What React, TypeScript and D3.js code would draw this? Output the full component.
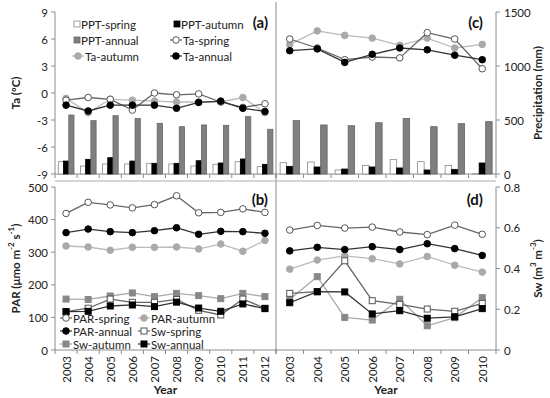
import React from 'react';
import * as d3 from 'd3';

const yearsLeft = ['2003', '2004', '2005', '2006', '2007', '2008', '2009', '2010', '2011', '2012'];
const yearsRight = ['2003', '2004', '2005', '2006', '2007', '2008', '2009', '2010'];

// panel (a)
const pptSpringA = [114, 74, 93, 93, 99, 93, 74, 90, 114, 68];
const pptAutumnA = [120, 136, 151, 120, 99, 99, 123, 102, 139, 90];
const pptAnnualA = [546, 494, 540, 515, 469, 438, 454, 451, 531, 414];
const taSpringA = [-0.8, -0.5, -0.7, -1.9, 0.0, -0.2, -0.1, -1.0, -1.6, -1.2];
const taAutumnA = [-0.6, -2.2, -0.7, -0.8, -0.9, -1.0, -1.0, -1.0, -0.5, -2.2];
const taAnnualA = [-1.35, -2.0, -1.35, -1.35, -1.35, -1.7, -1.05, -0.9, -1.7, -2.05];

// panel (c)
const pptSpringC = [105, 111, 37, 80, 133, 114, 80, 3];
const pptAutumnC = [71, 65, 46, 65, 56, 37, 43, 102];
const pptAnnualC = [494, 454, 447, 475, 515, 438, 466, 485];
const taSpringC = [6.0, 5.0, 3.7, 4.0, 3.9, 6.7, 6.0, 2.7];
const taAutumnC = [5.4, 6.9, 6.4, 6.1, 5.3, 6.1, 5.0, 5.4];
const taAnnualC = [4.7, 4.9, 3.4, 4.3, 5.0, 4.8, 4.2, 3.7];

// panel (b)
const parSpringB = [419, 453, 445, 436, 446, 473, 421, 422, 433, 422];
const parAutumnB = [319, 316, 306, 315, 315, 316, 310, 325, 303, 336];
const parAnnualB = [360, 371, 363, 360, 366, 375, 355, 364, 363, 358];
const swSpringB = [0.188, 0.205, 0.25, 0.234, 0.234, 0.248, 0.195, 0.172, 0.25, 0.205];
const swAutumnB = [0.25, 0.248, 0.265, 0.28, 0.262, 0.278, 0.267, 0.252, 0.278, 0.262];
const swAnnualB = [0.188, 0.19, 0.216, 0.221, 0.213, 0.235, 0.206, 0.19, 0.226, 0.203];

// panel (d)
const parSpringD = [368, 382, 374, 377, 362, 354, 383, 355];
const parAutumnD = [248, 276, 289, 280, 264, 287, 260, 239];
const parAnnualD = [304, 315, 308, 317, 308, 326, 311, 290];
const swSpringD = [0.278, 0.286, 0.438, 0.242, 0.224, 0.201, 0.19, 0.229];
const swAutumnD = [0.249, 0.36, 0.16, 0.147, 0.249, 0.119, 0.159, 0.257];
const swAnnualD = [0.232, 0.286, 0.285, 0.177, 0.193, 0.156, 0.163, 0.203];

const taTicks = [9, 6, 3, 0, -3, -6, -9];
const pptTicks = [1500, 1000, 500, 0];
const parTicks = [500, 400, 300, 200, 100, 0];
const swTicks = [0.8, 0.6, 0.4, 0.2, 0];

const FONT = 'Lato, "Open Sans", sans-serif';
const AX = '#8c8c8c';
const TICKFS = 11.5;
const LEGFS = 11.5;

const L = 55, M = 276, R = 496;
const T1 = 12, B1 = 174, T2 = 187, B2 = 350;

const xA = d3.scaleBand().domain(yearsLeft).range([L, M]);
const xC = d3.scaleBand().domain(yearsRight).range([M, R]);
const yTa = d3.scaleLinear().domain([-9, 9]).range([B1, T1]);
const yPPT = d3.scaleLinear().domain([0, 1500]).range([B1, T1]);
const yPAR = d3.scaleLinear().domain([0, 500]).range([B2, T2]);
const ySw = d3.scaleLinear().domain([0, 0.8]).range([B2, T2]);

type Style = { kind: 'circle' | 'square'; fill: string; stroke: string; line: string };
const sSpring: Style = { kind: 'circle', fill: '#fff', stroke: '#555', line: '#666' };
const sAutumn: Style = { kind: 'circle', fill: '#aaa', stroke: '#aaa', line: '#bbb' };
const sAnnual: Style = { kind: 'circle', fill: '#000', stroke: '#000', line: '#333' };
const qSpring: Style = { kind: 'square', fill: '#fff', stroke: '#555', line: '#666' };
const qAutumn: Style = { kind: 'square', fill: '#888', stroke: '#888', line: '#aaa' };
const qAnnual: Style = { kind: 'square', fill: '#000', stroke: '#000', line: '#333' };

function Marker({ x, y, s }: { x: number; y: number; s: Style }) {
  if (s.kind === 'circle') return <circle cx={x} cy={y} r={3.3} fill={s.fill} stroke={s.stroke} strokeWidth={1} />;
  return <rect x={x - 3} y={y - 3} width={6} height={6} fill={s.fill} stroke={s.stroke} strokeWidth={1} />;
}

function Series({ cats, vals, x, y, s }: { cats: string[]; vals: number[]; x: d3.ScaleBand<string>; y: d3.ScaleLinear<number, number>; s: Style }) {
  const pts: [number, number][] = cats.map((c, i) => [x(c)! + x.bandwidth() / 2, y(vals[i])]);
  const line = d3.line();
  return (
    <g>
      <path d={line(pts)!} fill="none" stroke={s.line} strokeWidth={1.3} />
      {pts.map((p, i) => <Marker key={i} x={p[0]} y={p[1]} s={s} />)}
    </g>
  );
}

function Bars({ cats, spring, autumn, annual, x }: { cats: string[]; spring: number[]; autumn: number[]; annual: number[]; x: d3.ScaleBand<string> }) {
  const bw = x.bandwidth();
  const sub = d3.scaleBand().domain(['s', 'a', 'n']).range([bw * 0.15, bw * 0.86]);
  const out: React.ReactNode[] = [];
  cats.forEach((c, i) => {
    const x0 = x(c)!;
    const defs: [string, number, string, string][] = [
      ['s', spring[i], '#fff', '#888'],
      ['a', autumn[i], '#000', '#000'],
      ['n', annual[i], '#7f7f7f', '#666'],
    ];
    defs.forEach(([k, v, f, st]) => {
      out.push(
        <rect key={c + k} x={x0 + sub(k)!} y={yPPT(v)} width={sub.bandwidth()} height={B1 - yPPT(v)} fill={f} stroke={st} strokeWidth={0.8} />
      );
    });
  });
  return <g>{out}</g>;
}

function XTicks({ x, y, cats }: { x: d3.ScaleBand<string>; y: number; cats: string[] }) {
  const xs = cats.map((c) => x(c)!).concat([x.range()[1]]);
  return <g>{xs.map((v, i) => <line key={i} x1={v} x2={v} y1={y} y2={y + 4} stroke={AX} />)}</g>;
}

function LegendItem({ x, y, label, s, swatch }: { x: number; y: number; label: string; s?: Style; swatch?: [string, string] }) {
  if (swatch) {
    return (
      <g>
        <rect x={x} y={y - 3} width={6} height={6} fill={swatch[0]} stroke={swatch[1]} strokeWidth={0.8} />
        <text x={x + 7} y={y} dominantBaseline="central" fontSize={LEGFS} fontFamily={FONT} fill="#222">{label}</text>
      </g>
    );
  }
  return (
    <g>
      <line x1={x - 2} x2={x + 10} y1={y} y2={y} stroke={s!.line} strokeWidth={1.2} />
      <Marker x={x + 4} y={y} s={s!} />
      <text x={x + 11} y={y} dominantBaseline="central" fontSize={LEGFS} fontFamily={FONT} fill="#222">{label}</text>
    </g>
  );
}

export default function App() {
  return (
    <svg width={550} height={398} style={{ position: 'absolute', left: 0, top: 0 }} fontFamily={FONT}>
      <rect width={550} height={398} fill="#fff" />
      {/* separators */}
      <line x1={M} x2={M} y1={2} y2={B2 + 2} stroke="#b0b0b0" strokeWidth={1.5} />
      <line x1={L} x2={R} y1={181} y2={181} stroke="#b0b0b0" strokeWidth={1.2} />

      {/* top axes */}
      <line x1={L} x2={L} y1={T1} y2={B1} stroke={AX} />
      <line x1={R} x2={R} y1={T1} y2={B1} stroke={AX} />
      <line x1={L} x2={R} y1={B1} y2={B1} stroke={AX} />
      <XTicks x={xA} y={B1} cats={yearsLeft} />
      <XTicks x={xC} y={B1} cats={yearsRight} />
      {taTicks.map((t) => (
        <g key={t}>
          <line x1={L - 4} x2={L} y1={yTa(t)} y2={yTa(t)} stroke={AX} />
          <text x={L - 7} y={yTa(t)} textAnchor="end" dominantBaseline="central" fontSize={TICKFS} fill="#222">{t}</text>
        </g>
      ))}
      {pptTicks.map((t) => (
        <g key={t}>
          <line x1={R} x2={R + 4} y1={yPPT(t)} y2={yPPT(t)} stroke={AX} />
          <text x={R + 8} y={yPPT(t)} dominantBaseline="central" fontSize={TICKFS} fill="#222">{t}</text>
        </g>
      ))}

      {/* bottom axes */}
      <line x1={L} x2={L} y1={T2} y2={B2} stroke={AX} />
      <line x1={R} x2={R} y1={T2} y2={B2} stroke={AX} />
      <line x1={L} x2={R} y1={B2} y2={B2} stroke={AX} />
      <XTicks x={xA} y={B2} cats={yearsLeft} />
      <XTicks x={xC} y={B2} cats={yearsRight} />
      {parTicks.map((t) => (
        <g key={t}>
          <line x1={L - 4} x2={L} y1={yPAR(t)} y2={yPAR(t)} stroke={AX} />
          <text x={L - 7} y={yPAR(t)} textAnchor="end" dominantBaseline="central" fontSize={TICKFS} fill="#222">{t}</text>
        </g>
      ))}
      {swTicks.map((t) => (
        <g key={t}>
          <line x1={R} x2={R + 4} y1={ySw(t)} y2={ySw(t)} stroke={AX} />
          <text x={R + 8} y={ySw(t)} dominantBaseline="central" fontSize={TICKFS} fill="#222">{t}</text>
        </g>
      ))}
      {yearsLeft.map((c) => (
        <text key={'l' + c} transform={`translate(${xA(c)! + xA.bandwidth() / 2},${B2 + 6}) rotate(-90)`} textAnchor="end" dominantBaseline="central" fontSize={TICKFS} fill="#222">{c}</text>
      ))}
      {yearsRight.map((c) => (
        <text key={'r' + c} transform={`translate(${xC(c)! + xC.bandwidth() / 2},${B2 + 6}) rotate(-90)`} textAnchor="end" dominantBaseline="central" fontSize={TICKFS} fill="#222">{c}</text>
      ))}

      {/* axis titles */}
      <text transform={`translate(15,${(T1 + B1) / 2}) rotate(-90)`} textAnchor="middle" dominantBaseline="central" fontSize={11.5} fontWeight="bold" fill="#222">Ta (ºC)</text>
      <text transform={`translate(15,${(T2 + B2) / 2}) rotate(-90)`} textAnchor="middle" dominantBaseline="central" fontSize={11.5} fontWeight="bold" fill="#222">
        PAR (μmo m<tspan dy={-4} fontSize={8}>-2</tspan><tspan dy={4}> s</tspan><tspan dy={-4} fontSize={8}>-1</tspan><tspan dy={4}>)</tspan>
      </text>
      <text transform={`translate(537,${(T1 + B1) / 2}) rotate(-90)`} textAnchor="middle" dominantBaseline="central" fontSize={11.5} fontWeight="bold" fill="#222">Precipitation (mm)</text>
      <text transform={`translate(537,${(T2 + B2) / 2}) rotate(-90)`} textAnchor="middle" dominantBaseline="central" fontSize={11.5} fontWeight="bold" fill="#222">
        Sw (m<tspan dy={-4} fontSize={8}>3</tspan><tspan dy={4}> m</tspan><tspan dy={-4} fontSize={8}>-3</tspan><tspan dy={4}>)</tspan>
      </text>
      <text x={(L + M) / 2} y={394} textAnchor="middle" fontSize={12} fontWeight="bold" fill="#222">Year</text>
      <text x={(M + R) / 2} y={394} textAnchor="middle" fontSize={12} fontWeight="bold" fill="#222">Year</text>

      {/* panel labels */}
      <text x={268} y={28} textAnchor="end" fontSize={15} fontWeight="bold" fill="#111">(a)</text>
      <text x={483} y={28} textAnchor="end" fontSize={15} fontWeight="bold" fill="#111">(c)</text>
      <text x={268} y={205} textAnchor="end" fontSize={15} fontWeight="bold" fill="#111">(b)</text>
      <text x={483} y={205} textAnchor="end" fontSize={15} fontWeight="bold" fill="#111">(d)</text>

      {/* data */}
      <Bars cats={yearsLeft} spring={pptSpringA} autumn={pptAutumnA} annual={pptAnnualA} x={xA} />
      <Bars cats={yearsRight} spring={pptSpringC} autumn={pptAutumnC} annual={pptAnnualC} x={xC} />
      <Series cats={yearsLeft} vals={taAutumnA} x={xA} y={yTa} s={sAutumn} />
      <Series cats={yearsLeft} vals={taSpringA} x={xA} y={yTa} s={sSpring} />
      <Series cats={yearsLeft} vals={taAnnualA} x={xA} y={yTa} s={sAnnual} />
      <Series cats={yearsRight} vals={taAutumnC} x={xC} y={yTa} s={sAutumn} />
      <Series cats={yearsRight} vals={taSpringC} x={xC} y={yTa} s={sSpring} />
      <Series cats={yearsRight} vals={taAnnualC} x={xC} y={yTa} s={sAnnual} />

      <Series cats={yearsLeft} vals={parAutumnB} x={xA} y={yPAR} s={sAutumn} />
      <Series cats={yearsLeft} vals={parSpringB} x={xA} y={yPAR} s={sSpring} />
      <Series cats={yearsLeft} vals={parAnnualB} x={xA} y={yPAR} s={sAnnual} />
      <Series cats={yearsLeft} vals={swAutumnB} x={xA} y={ySw} s={qAutumn} />
      <Series cats={yearsLeft} vals={swSpringB} x={xA} y={ySw} s={qSpring} />
      <Series cats={yearsLeft} vals={swAnnualB} x={xA} y={ySw} s={qAnnual} />

      <Series cats={yearsRight} vals={parAutumnD} x={xC} y={yPAR} s={sAutumn} />
      <Series cats={yearsRight} vals={parSpringD} x={xC} y={yPAR} s={sSpring} />
      <Series cats={yearsRight} vals={parAnnualD} x={xC} y={yPAR} s={sAnnual} />
      <Series cats={yearsRight} vals={swAutumnD} x={xC} y={ySw} s={qAutumn} />
      <Series cats={yearsRight} vals={swSpringD} x={xC} y={ySw} s={qSpring} />
      <Series cats={yearsRight} vals={swAnnualD} x={xC} y={ySw} s={qAnnual} />

      {/* legend (a) */}
      <LegendItem x={74} y={24} label="PPT-spring" swatch={['#fff', '#888']} />
      <LegendItem x={174} y={24} label="PPT-autumn" swatch={['#000', '#000']} />
      <LegendItem x={74} y={40} label="PPT-annual" swatch={['#7f7f7f', '#666']} />
      <LegendItem x={172} y={40} label="Ta-spring" s={sSpring} />
      <LegendItem x={74} y={56} label="Ta-autumn" s={sAutumn} />
      <LegendItem x={172} y={56} label="Ta-annual" s={sAnnual} />

      {/* legend (b) */}
      <LegendItem x={62} y={318} label="PAR-spring" s={sSpring} />
      <LegendItem x={140} y={318} label="PAR-autumn" s={sAutumn} />
      <LegendItem x={62} y={331} label="PAR-annual" s={sAnnual} />
      <LegendItem x={140} y={331} label="Sw-spring" s={qSpring} />
      <LegendItem x={62} y={344} label="Sw-autumn" s={qAutumn} />
      <LegendItem x={140} y={344} label="Sw-annual" s={qAnnual} />
    </svg>
  );
}
